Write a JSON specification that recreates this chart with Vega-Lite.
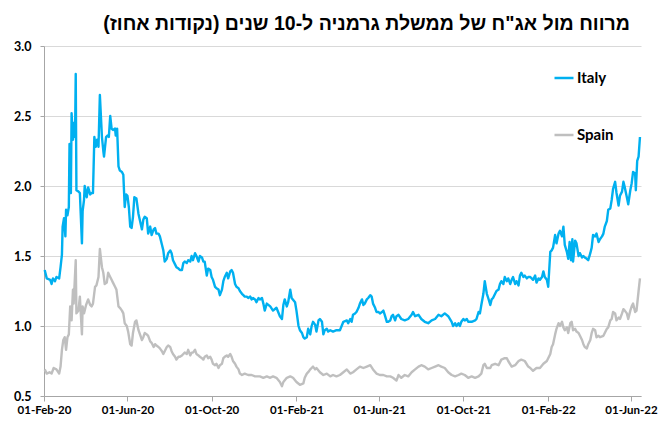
{
"$schema": "https://vega.github.io/schema/vega-lite/v6.json",
"width": 597, "height": 350,
"autosize": {"type": "none"},
"padding": {"left": 44, "top": 46, "right": 27, "bottom": 28},
"background": "white",
"title": {"text": "\u200Fמרווח מול אג\"ח של ממשלת גרמניה ל-10 שנים (נקודות אחוז)\u200F", "font": "Liberation Sans", "fontSize": 19.5, "fontWeight": "bold", "color": "black", "anchor": "end", "frame": "group", "dx": -11, "offset": 6},
"data": {"format": {"parse": {"d": "date:'%Y-%m-%d'"}}, "values": [
{"c":"Italy","d":"2020-02-02","v":1.40},{"c":"Italy","d":"2020-02-05","v":1.34},{"c":"Italy","d":"2020-02-10","v":1.33},{"c":"Italy","d":"2020-02-12","v":1.30},{"c":"Italy","d":"2020-02-14","v":1.34},{"c":"Italy","d":"2020-02-17","v":1.32},{"c":"Italy","d":"2020-02-19","v":1.35},{"c":"Italy","d":"2020-02-23","v":1.34},{"c":"Italy","d":"2020-02-25","v":1.42},{"c":"Italy","d":"2020-02-27","v":1.51},{"c":"Italy","d":"2020-02-28","v":1.71},{"c":"Italy","d":"2020-03-01","v":1.77},{"c":"Italy","d":"2020-03-03","v":1.64},{"c":"Italy","d":"2020-03-04","v":1.83},{"c":"Italy","d":"2020-03-06","v":1.79},{"c":"Italy","d":"2020-03-08","v":1.85},{"c":"Italy","d":"2020-03-09","v":2.30},{"c":"Italy","d":"2020-03-11","v":1.95},{"c":"Italy","d":"2020-03-12","v":2.52},{"c":"Italy","d":"2020-03-14","v":2.33},{"c":"Italy","d":"2020-03-15","v":2.45},{"c":"Italy","d":"2020-03-17","v":2.35},{"c":"Italy","d":"2020-03-18","v":2.80},{"c":"Italy","d":"2020-03-19","v":1.97},{"c":"Italy","d":"2020-03-22","v":1.96},{"c":"Italy","d":"2020-03-24","v":1.95},{"c":"Italy","d":"2020-03-27","v":1.59},{"c":"Italy","d":"2020-03-28","v":1.82},{"c":"Italy","d":"2020-03-30","v":1.90},{"c":"Italy","d":"2020-03-31","v":2.00},{"c":"Italy","d":"2020-04-03","v":1.92},{"c":"Italy","d":"2020-04-05","v":1.99},{"c":"Italy","d":"2020-04-08","v":1.94},{"c":"Italy","d":"2020-04-10","v":1.95},{"c":"Italy","d":"2020-04-12","v":1.95},{"c":"Italy","d":"2020-04-14","v":2.35},{"c":"Italy","d":"2020-04-16","v":2.28},{"c":"Italy","d":"2020-04-18","v":2.33},{"c":"Italy","d":"2020-04-20","v":2.28},{"c":"Italy","d":"2020-04-22","v":2.65},{"c":"Italy","d":"2020-04-25","v":2.35},{"c":"Italy","d":"2020-04-27","v":2.25},{"c":"Italy","d":"2020-04-28","v":2.21},{"c":"Italy","d":"2020-05-01","v":2.35},{"c":"Italy","d":"2020-05-03","v":2.36},{"c":"Italy","d":"2020-05-05","v":2.35},{"c":"Italy","d":"2020-05-07","v":2.50},{"c":"Italy","d":"2020-05-09","v":2.41},{"c":"Italy","d":"2020-05-11","v":2.40},{"c":"Italy","d":"2020-05-14","v":2.41},{"c":"Italy","d":"2020-05-15","v":2.36},{"c":"Italy","d":"2020-05-17","v":2.41},{"c":"Italy","d":"2020-05-19","v":2.14},{"c":"Italy","d":"2020-05-21","v":2.11},{"c":"Italy","d":"2020-05-24","v":2.10},{"c":"Italy","d":"2020-05-26","v":2.08},{"c":"Italy","d":"2020-05-28","v":1.85},{"c":"Italy","d":"2020-05-30","v":1.94},{"c":"Italy","d":"2020-06-01","v":1.93},{"c":"Italy","d":"2020-06-03","v":1.85},{"c":"Italy","d":"2020-06-05","v":1.71},{"c":"Italy","d":"2020-06-07","v":1.70},{"c":"Italy","d":"2020-06-09","v":1.78},{"c":"Italy","d":"2020-06-11","v":1.92},{"c":"Italy","d":"2020-06-14","v":1.91},
{"c":"Italy","d":"2020-06-17","v":1.80},{"c":"Italy","d":"2020-06-22","v":1.69},{"c":"Italy","d":"2020-06-24","v":1.76},{"c":"Italy","d":"2020-06-26","v":1.78},{"c":"Italy","d":"2020-06-29","v":1.77},{"c":"Italy","d":"2020-07-01","v":1.66},{"c":"Italy","d":"2020-07-04","v":1.71},{"c":"Italy","d":"2020-07-06","v":1.65},{"c":"Italy","d":"2020-07-09","v":1.69},{"c":"Italy","d":"2020-07-11","v":1.70},{"c":"Italy","d":"2020-07-13","v":1.66},{"c":"Italy","d":"2020-07-16","v":1.66},{"c":"Italy","d":"2020-07-18","v":1.64},{"c":"Italy","d":"2020-07-21","v":1.58},{"c":"Italy","d":"2020-07-23","v":1.54},{"c":"Italy","d":"2020-07-25","v":1.46},{"c":"Italy","d":"2020-07-28","v":1.48},{"c":"Italy","d":"2020-07-30","v":1.52},{"c":"Italy","d":"2020-08-02","v":1.54},{"c":"Italy","d":"2020-08-04","v":1.52},{"c":"Italy","d":"2020-08-06","v":1.47},{"c":"Italy","d":"2020-08-09","v":1.44},{"c":"Italy","d":"2020-08-11","v":1.42},{"c":"Italy","d":"2020-08-14","v":1.41},{"c":"Italy","d":"2020-08-16","v":1.40},{"c":"Italy","d":"2020-08-19","v":1.40},{"c":"Italy","d":"2020-08-21","v":1.45},{"c":"Italy","d":"2020-08-23","v":1.46},{"c":"Italy","d":"2020-08-26","v":1.45},{"c":"Italy","d":"2020-08-28","v":1.47},{"c":"Italy","d":"2020-08-31","v":1.46},{"c":"Italy","d":"2020-09-02","v":1.50},{"c":"Italy","d":"2020-09-04","v":1.47},{"c":"Italy","d":"2020-09-07","v":1.52},{"c":"Italy","d":"2020-09-09","v":1.50},{"c":"Italy","d":"2020-09-12","v":1.46},{"c":"Italy","d":"2020-09-14","v":1.50},{"c":"Italy","d":"2020-09-17","v":1.49},{"c":"Italy","d":"2020-09-19","v":1.46},{"c":"Italy","d":"2020-09-21","v":1.46},{"c":"Italy","d":"2020-09-24","v":1.36},{"c":"Italy","d":"2020-09-26","v":1.41},{"c":"Italy","d":"2020-09-29","v":1.40},{"c":"Italy","d":"2020-10-01","v":1.35},{"c":"Italy","d":"2020-10-03","v":1.33},{"c":"Italy","d":"2020-10-06","v":1.28},{"c":"Italy","d":"2020-10-08","v":1.27},{"c":"Italy","d":"2020-10-11","v":1.26},{"c":"Italy","d":"2020-10-13","v":1.22},{"c":"Italy","d":"2020-10-16","v":1.26},{"c":"Italy","d":"2020-10-18","v":1.32},{"c":"Italy","d":"2020-10-20","v":1.35},{"c":"Italy","d":"2020-10-23","v":1.38},{"c":"Italy","d":"2020-10-25","v":1.34},{"c":"Italy","d":"2020-10-28","v":1.39},{"c":"Italy","d":"2020-10-30","v":1.40},{"c":"Italy","d":"2020-11-01","v":1.38},{"c":"Italy","d":"2020-11-04","v":1.30},{"c":"Italy","d":"2020-11-06","v":1.28},{"c":"Italy","d":"2020-11-09","v":1.27},{"c":"Italy","d":"2020-11-11","v":1.25},{"c":"Italy","d":"2020-11-14","v":1.23},{"c":"Italy","d":"2020-11-16","v":1.22},{"c":"Italy","d":"2020-11-18","v":1.21},{"c":"Italy","d":"2020-11-21","v":1.21},{"c":"Italy","d":"2020-11-23","v":1.20},{"c":"Italy","d":"2020-11-26","v":1.21},{"c":"Italy","d":"2020-11-28","v":1.19},{"c":"Italy","d":"2020-11-30","v":1.20},{"c":"Italy","d":"2020-12-03","v":1.19},{"c":"Italy","d":"2020-12-05","v":1.17},{"c":"Italy","d":"2020-12-08","v":1.20},{"c":"Italy","d":"2020-12-10","v":1.19},{"c":"Italy","d":"2020-12-13","v":1.20},{"c":"Italy","d":"2020-12-15","v":1.16},{"c":"Italy","d":"2020-12-17","v":1.11},
{"c":"Italy","d":"2020-12-20","v":1.16},{"c":"Italy","d":"2020-12-25","v":1.14},{"c":"Italy","d":"2020-12-29","v":1.11},{"c":"Italy","d":"2021-01-03","v":1.13},{"c":"Italy","d":"2021-01-08","v":1.07},{"c":"Italy","d":"2021-01-11","v":1.05},{"c":"Italy","d":"2021-01-13","v":1.15},{"c":"Italy","d":"2021-01-15","v":1.19},{"c":"Italy","d":"2021-01-18","v":1.14},{"c":"Italy","d":"2021-01-20","v":1.17},{"c":"Italy","d":"2021-01-23","v":1.26},{"c":"Italy","d":"2021-01-25","v":1.20},{"c":"Italy","d":"2021-01-30","v":1.17},{"c":"Italy","d":"2021-02-01","v":1.11},{"c":"Italy","d":"2021-02-04","v":1.00},{"c":"Italy","d":"2021-02-06","v":0.97},{"c":"Italy","d":"2021-02-09","v":0.95},{"c":"Italy","d":"2021-02-11","v":0.92},{"c":"Italy","d":"2021-02-13","v":0.91},{"c":"Italy","d":"2021-02-16","v":0.92},{"c":"Italy","d":"2021-02-18","v":0.98},{"c":"Italy","d":"2021-02-21","v":0.94},{"c":"Italy","d":"2021-02-23","v":1.00},{"c":"Italy","d":"2021-02-25","v":1.03},{"c":"Italy","d":"2021-02-28","v":1.01},{"c":"Italy","d":"2021-03-02","v":0.96},{"c":"Italy","d":"2021-03-05","v":1.04},{"c":"Italy","d":"2021-03-07","v":1.05},{"c":"Italy","d":"2021-03-10","v":1.03},{"c":"Italy","d":"2021-03-12","v":0.94},{"c":"Italy","d":"2021-03-14","v":0.97},{"c":"Italy","d":"2021-03-17","v":0.98},{"c":"Italy","d":"2021-03-19","v":0.96},{"c":"Italy","d":"2021-03-22","v":0.97},{"c":"Italy","d":"2021-03-26","v":0.96},{"c":"Italy","d":"2021-03-31","v":0.97},{"c":"Italy","d":"2021-04-05","v":0.97},{"c":"Italy","d":"2021-04-10","v":1.03},{"c":"Italy","d":"2021-04-15","v":1.04},{"c":"Italy","d":"2021-04-17","v":1.02},{"c":"Italy","d":"2021-04-20","v":1.05},{"c":"Italy","d":"2021-04-22","v":1.03},{"c":"Italy","d":"2021-04-24","v":1.08},{"c":"Italy","d":"2021-04-27","v":1.09},{"c":"Italy","d":"2021-04-29","v":1.10},{"c":"Italy","d":"2021-05-02","v":1.13},{"c":"Italy","d":"2021-05-04","v":1.16},{"c":"Italy","d":"2021-05-07","v":1.19},{"c":"Italy","d":"2021-05-09","v":1.15},{"c":"Italy","d":"2021-05-11","v":1.16},{"c":"Italy","d":"2021-05-14","v":1.19},{"c":"Italy","d":"2021-05-16","v":1.20},{"c":"Italy","d":"2021-05-19","v":1.22},{"c":"Italy","d":"2021-05-21","v":1.21},{"c":"Italy","d":"2021-05-23","v":1.16},{"c":"Italy","d":"2021-05-26","v":1.13},{"c":"Italy","d":"2021-05-28","v":1.10},{"c":"Italy","d":"2021-05-31","v":1.10},{"c":"Italy","d":"2021-06-02","v":1.09},{"c":"Italy","d":"2021-06-05","v":1.10},{"c":"Italy","d":"2021-06-07","v":1.11},{"c":"Italy","d":"2021-06-09","v":1.08},{"c":"Italy","d":"2021-06-12","v":1.03},{"c":"Italy","d":"2021-06-14","v":1.03},{"c":"Italy","d":"2021-06-17","v":1.04},{"c":"Italy","d":"2021-06-19","v":1.07},{"c":"Italy","d":"2021-06-21","v":1.08},{"c":"Italy","d":"2021-06-24","v":1.04},{"c":"Italy","d":"2021-06-26","v":1.07},{"c":"Italy","d":"2021-06-29","v":1.08},
{"c":"Italy","d":"2021-07-03","v":1.05},{"c":"Italy","d":"2021-07-08","v":1.04},{"c":"Italy","d":"2021-07-13","v":1.05},{"c":"Italy","d":"2021-07-18","v":1.08},{"c":"Italy","d":"2021-07-20","v":1.10},{"c":"Italy","d":"2021-07-23","v":1.07},{"c":"Italy","d":"2021-07-28","v":1.08},{"c":"Italy","d":"2021-08-01","v":1.05},{"c":"Italy","d":"2021-08-06","v":1.03},{"c":"Italy","d":"2021-08-11","v":1.02},{"c":"Italy","d":"2021-08-16","v":1.04},{"c":"Italy","d":"2021-08-21","v":1.05},{"c":"Italy","d":"2021-08-26","v":1.08},{"c":"Italy","d":"2021-08-30","v":1.07},{"c":"Italy","d":"2021-09-04","v":1.09},{"c":"Italy","d":"2021-09-09","v":1.07},{"c":"Italy","d":"2021-09-14","v":1.03},{"c":"Italy","d":"2021-09-16","v":1.00},{"c":"Italy","d":"2021-09-19","v":1.02},{"c":"Italy","d":"2021-09-21","v":1.00},{"c":"Italy","d":"2021-09-24","v":1.02},{"c":"Italy","d":"2021-09-26","v":1.00},{"c":"Italy","d":"2021-09-28","v":1.03},{"c":"Italy","d":"2021-10-01","v":1.05},{"c":"Italy","d":"2021-10-03","v":1.04},{"c":"Italy","d":"2021-10-06","v":1.05},{"c":"Italy","d":"2021-10-08","v":1.03},{"c":"Italy","d":"2021-10-13","v":1.03},{"c":"Italy","d":"2021-10-18","v":1.04},{"c":"Italy","d":"2021-10-20","v":1.05},{"c":"Italy","d":"2021-10-23","v":1.10},{"c":"Italy","d":"2021-10-25","v":1.09},{"c":"Italy","d":"2021-10-27","v":1.15},{"c":"Italy","d":"2021-10-30","v":1.23},{"c":"Italy","d":"2021-11-01","v":1.32},{"c":"Italy","d":"2021-11-04","v":1.23},{"c":"Italy","d":"2021-11-06","v":1.20},{"c":"Italy","d":"2021-11-09","v":1.15},{"c":"Italy","d":"2021-11-11","v":1.19},{"c":"Italy","d":"2021-11-13","v":1.20},{"c":"Italy","d":"2021-11-16","v":1.23},{"c":"Italy","d":"2021-11-18","v":1.25},{"c":"Italy","d":"2021-11-21","v":1.26},{"c":"Italy","d":"2021-11-23","v":1.30},{"c":"Italy","d":"2021-11-25","v":1.32},{"c":"Italy","d":"2021-11-28","v":1.30},{"c":"Italy","d":"2021-11-30","v":1.35},{"c":"Italy","d":"2021-12-03","v":1.32},{"c":"Italy","d":"2021-12-05","v":1.34},{"c":"Italy","d":"2021-12-08","v":1.30},{"c":"Italy","d":"2021-12-10","v":1.33},{"c":"Italy","d":"2021-12-12","v":1.35},{"c":"Italy","d":"2021-12-15","v":1.30},{"c":"Italy","d":"2021-12-17","v":1.32},{"c":"Italy","d":"2021-12-20","v":1.29},{"c":"Italy","d":"2021-12-22","v":1.36},{"c":"Italy","d":"2021-12-24","v":1.38},{"c":"Italy","d":"2021-12-27","v":1.35},{"c":"Italy","d":"2021-12-29","v":1.36},{"c":"Italy","d":"2022-01-01","v":1.34},{"c":"Italy","d":"2022-01-03","v":1.35},
{"c":"Italy","d":"2022-01-06","v":1.35},{"c":"Italy","d":"2022-01-10","v":1.33},{"c":"Italy","d":"2022-01-13","v":1.36},{"c":"Italy","d":"2022-01-15","v":1.31},{"c":"Italy","d":"2022-01-18","v":1.34},{"c":"Italy","d":"2022-01-20","v":1.33},{"c":"Italy","d":"2022-01-23","v":1.35},{"c":"Italy","d":"2022-01-25","v":1.39},{"c":"Italy","d":"2022-01-27","v":1.35},{"c":"Italy","d":"2022-01-30","v":1.33},{"c":"Italy","d":"2022-02-01","v":1.28},{"c":"Italy","d":"2022-02-04","v":1.53},{"c":"Italy","d":"2022-02-06","v":1.54},{"c":"Italy","d":"2022-02-08","v":1.56},{"c":"Italy","d":"2022-02-11","v":1.65},{"c":"Italy","d":"2022-02-13","v":1.59},{"c":"Italy","d":"2022-02-16","v":1.66},{"c":"Italy","d":"2022-02-18","v":1.68},{"c":"Italy","d":"2022-02-21","v":1.64},{"c":"Italy","d":"2022-02-23","v":1.71},{"c":"Italy","d":"2022-02-25","v":1.58},{"c":"Italy","d":"2022-02-28","v":1.53},{"c":"Italy","d":"2022-03-02","v":1.48},{"c":"Italy","d":"2022-03-04","v":1.60},{"c":"Italy","d":"2022-03-06","v":1.47},{"c":"Italy","d":"2022-03-08","v":1.62},{"c":"Italy","d":"2022-03-09","v":1.46},{"c":"Italy","d":"2022-03-12","v":1.61},{"c":"Italy","d":"2022-03-14","v":1.59},{"c":"Italy","d":"2022-03-17","v":1.50},{"c":"Italy","d":"2022-03-19","v":1.52},{"c":"Italy","d":"2022-03-22","v":1.49},{"c":"Italy","d":"2022-03-24","v":1.50},{"c":"Italy","d":"2022-03-26","v":1.49},{"c":"Italy","d":"2022-03-29","v":1.48},{"c":"Italy","d":"2022-03-31","v":1.47},{"c":"Italy","d":"2022-04-03","v":1.52},{"c":"Italy","d":"2022-04-05","v":1.56},{"c":"Italy","d":"2022-04-07","v":1.65},{"c":"Italy","d":"2022-04-10","v":1.64},{"c":"Italy","d":"2022-04-12","v":1.66},{"c":"Italy","d":"2022-04-15","v":1.60},{"c":"Italy","d":"2022-04-17","v":1.62},{"c":"Italy","d":"2022-04-20","v":1.64},{"c":"Italy","d":"2022-04-22","v":1.66},{"c":"Italy","d":"2022-04-24","v":1.71},{"c":"Italy","d":"2022-04-27","v":1.75},{"c":"Italy","d":"2022-04-29","v":1.83},{"c":"Italy","d":"2022-05-02","v":1.84},{"c":"Italy","d":"2022-05-04","v":1.90},{"c":"Italy","d":"2022-05-06","v":1.98},{"c":"Italy","d":"2022-05-09","v":2.03},{"c":"Italy","d":"2022-05-11","v":1.95},{"c":"Italy","d":"2022-05-14","v":1.86},{"c":"Italy","d":"2022-05-16","v":1.93},{"c":"Italy","d":"2022-05-19","v":1.96},{"c":"Italy","d":"2022-05-21","v":2.03},{"c":"Italy","d":"2022-05-23","v":1.99},{"c":"Italy","d":"2022-05-26","v":1.92},{"c":"Italy","d":"2022-05-28","v":1.87},{"c":"Italy","d":"2022-05-31","v":1.97},{"c":"Italy","d":"2022-06-02","v":2.02},{"c":"Italy","d":"2022-06-04","v":2.10},{"c":"Italy","d":"2022-06-07","v":2.09},{"c":"Italy","d":"2022-06-08","v":1.97},{"c":"Italy","d":"2022-06-10","v":2.18},{"c":"Italy","d":"2022-06-12","v":2.21},{"c":"Italy","d":"2022-06-14","v":2.35},
{"c":"Spain","d":"2020-02-02","v":0.69},{"c":"Spain","d":"2020-02-05","v":0.66},{"c":"Spain","d":"2020-02-09","v":0.67},{"c":"Spain","d":"2020-02-12","v":0.66},{"c":"Spain","d":"2020-02-15","v":0.70},{"c":"Spain","d":"2020-02-19","v":0.69},{"c":"Spain","d":"2020-02-23","v":0.66},{"c":"Spain","d":"2020-02-25","v":0.71},{"c":"Spain","d":"2020-02-27","v":0.83},{"c":"Spain","d":"2020-02-29","v":0.90},{"c":"Spain","d":"2020-03-02","v":0.92},{"c":"Spain","d":"2020-03-04","v":0.83},{"c":"Spain","d":"2020-03-06","v":0.92},{"c":"Spain","d":"2020-03-08","v":0.94},{"c":"Spain","d":"2020-03-10","v":1.14},{"c":"Spain","d":"2020-03-12","v":1.04},{"c":"Spain","d":"2020-03-14","v":1.26},{"c":"Spain","d":"2020-03-15","v":1.16},{"c":"Spain","d":"2020-03-18","v":1.47},{"c":"Spain","d":"2020-03-19","v":1.09},{"c":"Spain","d":"2020-03-22","v":1.11},{"c":"Spain","d":"2020-03-24","v":1.21},{"c":"Spain","d":"2020-03-27","v":0.94},{"c":"Spain","d":"2020-03-28","v":1.14},{"c":"Spain","d":"2020-03-30","v":1.09},{"c":"Spain","d":"2020-04-02","v":1.15},{"c":"Spain","d":"2020-04-05","v":1.19},{"c":"Spain","d":"2020-04-08","v":1.15},{"c":"Spain","d":"2020-04-10","v":1.14},{"c":"Spain","d":"2020-04-12","v":1.16},{"c":"Spain","d":"2020-04-15","v":1.28},{"c":"Spain","d":"2020-04-17","v":1.29},{"c":"Spain","d":"2020-04-20","v":1.35},{"c":"Spain","d":"2020-04-22","v":1.55},{"c":"Spain","d":"2020-04-25","v":1.42},{"c":"Spain","d":"2020-04-27","v":1.38},{"c":"Spain","d":"2020-04-29","v":1.30},{"c":"Spain","d":"2020-05-02","v":1.31},{"c":"Spain","d":"2020-05-04","v":1.38},{"c":"Spain","d":"2020-05-07","v":1.35},{"c":"Spain","d":"2020-05-09","v":1.33},{"c":"Spain","d":"2020-05-11","v":1.31},{"c":"Spain","d":"2020-05-14","v":1.28},{"c":"Spain","d":"2020-05-16","v":1.26},{"c":"Spain","d":"2020-05-19","v":1.14},{"c":"Spain","d":"2020-05-21","v":1.13},{"c":"Spain","d":"2020-05-24","v":1.11},{"c":"Spain","d":"2020-05-26","v":1.09},{"c":"Spain","d":"2020-05-28","v":1.02},{"c":"Spain","d":"2020-05-31","v":1.00},{"c":"Spain","d":"2020-06-02","v":0.96},{"c":"Spain","d":"2020-06-05","v":0.87},{"c":"Spain","d":"2020-06-07","v":0.86},{"c":"Spain","d":"2020-06-09","v":0.95},{"c":"Spain","d":"2020-06-12","v":1.03},{"c":"Spain","d":"2020-06-14","v":1.04},
{"c":"Spain","d":"2020-06-17","v":0.97},{"c":"Spain","d":"2020-06-22","v":0.90},{"c":"Spain","d":"2020-06-24","v":0.92},{"c":"Spain","d":"2020-06-26","v":0.95},{"c":"Spain","d":"2020-06-29","v":0.94},{"c":"Spain","d":"2020-07-01","v":0.93},{"c":"Spain","d":"2020-07-04","v":0.89},{"c":"Spain","d":"2020-07-06","v":0.88},{"c":"Spain","d":"2020-07-09","v":0.85},{"c":"Spain","d":"2020-07-11","v":0.87},{"c":"Spain","d":"2020-07-13","v":0.86},{"c":"Spain","d":"2020-07-16","v":0.85},{"c":"Spain","d":"2020-07-18","v":0.84},{"c":"Spain","d":"2020-07-21","v":0.82},{"c":"Spain","d":"2020-07-23","v":0.80},{"c":"Spain","d":"2020-07-25","v":0.82},{"c":"Spain","d":"2020-07-28","v":0.85},{"c":"Spain","d":"2020-07-30","v":0.86},{"c":"Spain","d":"2020-08-02","v":0.85},{"c":"Spain","d":"2020-08-04","v":0.82},{"c":"Spain","d":"2020-08-06","v":0.80},{"c":"Spain","d":"2020-08-09","v":0.78},{"c":"Spain","d":"2020-08-11","v":0.76},{"c":"Spain","d":"2020-08-14","v":0.78},{"c":"Spain","d":"2020-08-16","v":0.78},{"c":"Spain","d":"2020-08-19","v":0.79},{"c":"Spain","d":"2020-08-21","v":0.80},{"c":"Spain","d":"2020-08-23","v":0.81},{"c":"Spain","d":"2020-08-26","v":0.80},{"c":"Spain","d":"2020-08-28","v":0.83},{"c":"Spain","d":"2020-08-31","v":0.79},{"c":"Spain","d":"2020-09-02","v":0.81},{"c":"Spain","d":"2020-09-04","v":0.81},{"c":"Spain","d":"2020-09-07","v":0.83},{"c":"Spain","d":"2020-09-09","v":0.80},{"c":"Spain","d":"2020-09-12","v":0.79},{"c":"Spain","d":"2020-09-14","v":0.78},{"c":"Spain","d":"2020-09-17","v":0.77},{"c":"Spain","d":"2020-09-19","v":0.76},{"c":"Spain","d":"2020-09-21","v":0.78},{"c":"Spain","d":"2020-09-24","v":0.79},{"c":"Spain","d":"2020-09-26","v":0.77},{"c":"Spain","d":"2020-09-29","v":0.78},{"c":"Spain","d":"2020-10-01","v":0.76},{"c":"Spain","d":"2020-10-03","v":0.73},{"c":"Spain","d":"2020-10-06","v":0.72},{"c":"Spain","d":"2020-10-08","v":0.73},{"c":"Spain","d":"2020-10-11","v":0.70},{"c":"Spain","d":"2020-10-13","v":0.72},{"c":"Spain","d":"2020-10-16","v":0.73},{"c":"Spain","d":"2020-10-18","v":0.77},{"c":"Spain","d":"2020-10-20","v":0.78},{"c":"Spain","d":"2020-10-23","v":0.79},{"c":"Spain","d":"2020-10-25","v":0.78},{"c":"Spain","d":"2020-10-28","v":0.80},{"c":"Spain","d":"2020-10-30","v":0.78},{"c":"Spain","d":"2020-11-01","v":0.75},{"c":"Spain","d":"2020-11-04","v":0.73},{"c":"Spain","d":"2020-11-06","v":0.71},{"c":"Spain","d":"2020-11-09","v":0.69},{"c":"Spain","d":"2020-11-11","v":0.66},{"c":"Spain","d":"2020-11-14","v":0.65},{"c":"Spain","d":"2020-11-18","v":0.66},{"c":"Spain","d":"2020-11-23","v":0.65},{"c":"Spain","d":"2020-11-28","v":0.65},{"c":"Spain","d":"2020-12-03","v":0.64},{"c":"Spain","d":"2020-12-08","v":0.64},
{"c":"Spain","d":"2020-12-10","v":0.64},{"c":"Spain","d":"2020-12-15","v":0.63},{"c":"Spain","d":"2020-12-20","v":0.64},{"c":"Spain","d":"2020-12-25","v":0.63},{"c":"Spain","d":"2020-12-29","v":0.64},{"c":"Spain","d":"2021-01-03","v":0.63},{"c":"Spain","d":"2021-01-08","v":0.60},{"c":"Spain","d":"2021-01-11","v":0.57},{"c":"Spain","d":"2021-01-13","v":0.60},{"c":"Spain","d":"2021-01-18","v":0.63},{"c":"Spain","d":"2021-01-23","v":0.64},{"c":"Spain","d":"2021-01-27","v":0.63},{"c":"Spain","d":"2021-02-01","v":0.60},{"c":"Spain","d":"2021-02-06","v":0.58},{"c":"Spain","d":"2021-02-11","v":0.59},{"c":"Spain","d":"2021-02-13","v":0.63},{"c":"Spain","d":"2021-02-16","v":0.66},{"c":"Spain","d":"2021-02-18","v":0.67},{"c":"Spain","d":"2021-02-21","v":0.69},{"c":"Spain","d":"2021-02-23","v":0.70},{"c":"Spain","d":"2021-02-25","v":0.71},{"c":"Spain","d":"2021-02-28","v":0.69},{"c":"Spain","d":"2021-03-02","v":0.70},{"c":"Spain","d":"2021-03-07","v":0.67},{"c":"Spain","d":"2021-03-12","v":0.65},{"c":"Spain","d":"2021-03-17","v":0.66},{"c":"Spain","d":"2021-03-22","v":0.64},{"c":"Spain","d":"2021-03-26","v":0.65},{"c":"Spain","d":"2021-03-31","v":0.64},{"c":"Spain","d":"2021-04-05","v":0.65},{"c":"Spain","d":"2021-04-10","v":0.67},{"c":"Spain","d":"2021-04-15","v":0.69},{"c":"Spain","d":"2021-04-20","v":0.66},{"c":"Spain","d":"2021-04-24","v":0.67},{"c":"Spain","d":"2021-04-29","v":0.69},{"c":"Spain","d":"2021-05-04","v":0.71},{"c":"Spain","d":"2021-05-09","v":0.70},{"c":"Spain","d":"2021-05-14","v":0.71},{"c":"Spain","d":"2021-05-19","v":0.72},{"c":"Spain","d":"2021-05-23","v":0.69},{"c":"Spain","d":"2021-05-28","v":0.66},{"c":"Spain","d":"2021-06-02","v":0.65},{"c":"Spain","d":"2021-06-07","v":0.65},{"c":"Spain","d":"2021-06-12","v":0.64},{"c":"Spain","d":"2021-06-17","v":0.64},{"c":"Spain","d":"2021-06-21","v":0.63},{"c":"Spain","d":"2021-06-26","v":0.61},
{"c":"Spain","d":"2021-06-29","v":0.65},{"c":"Spain","d":"2021-07-03","v":0.63},{"c":"Spain","d":"2021-07-08","v":0.65},{"c":"Spain","d":"2021-07-13","v":0.64},{"c":"Spain","d":"2021-07-18","v":0.67},{"c":"Spain","d":"2021-07-23","v":0.69},{"c":"Spain","d":"2021-07-28","v":0.71},{"c":"Spain","d":"2021-08-01","v":0.72},{"c":"Spain","d":"2021-08-06","v":0.71},{"c":"Spain","d":"2021-08-11","v":0.69},{"c":"Spain","d":"2021-08-16","v":0.70},{"c":"Spain","d":"2021-08-21","v":0.71},{"c":"Spain","d":"2021-08-26","v":0.72},{"c":"Spain","d":"2021-08-30","v":0.71},{"c":"Spain","d":"2021-09-04","v":0.70},{"c":"Spain","d":"2021-09-09","v":0.67},{"c":"Spain","d":"2021-09-14","v":0.65},{"c":"Spain","d":"2021-09-19","v":0.64},{"c":"Spain","d":"2021-09-24","v":0.65},{"c":"Spain","d":"2021-09-28","v":0.66},{"c":"Spain","d":"2021-10-03","v":0.65},{"c":"Spain","d":"2021-10-08","v":0.63},{"c":"Spain","d":"2021-10-13","v":0.64},{"c":"Spain","d":"2021-10-18","v":0.63},{"c":"Spain","d":"2021-10-23","v":0.64},{"c":"Spain","d":"2021-10-27","v":0.66},{"c":"Spain","d":"2021-10-30","v":0.72},{"c":"Spain","d":"2021-11-01","v":0.73},{"c":"Spain","d":"2021-11-04","v":0.70},{"c":"Spain","d":"2021-11-09","v":0.70},{"c":"Spain","d":"2021-11-11","v":0.72},{"c":"Spain","d":"2021-11-16","v":0.73},{"c":"Spain","d":"2021-11-21","v":0.72},{"c":"Spain","d":"2021-11-25","v":0.76},{"c":"Spain","d":"2021-11-30","v":0.77},{"c":"Spain","d":"2021-12-03","v":0.77},{"c":"Spain","d":"2021-12-05","v":0.75},{"c":"Spain","d":"2021-12-10","v":0.71},{"c":"Spain","d":"2021-12-15","v":0.72},{"c":"Spain","d":"2021-12-20","v":0.75},{"c":"Spain","d":"2021-12-24","v":0.76},{"c":"Spain","d":"2021-12-29","v":0.75},{"c":"Spain","d":"2022-01-03","v":0.71},
{"c":"Spain","d":"2022-01-06","v":0.70},{"c":"Spain","d":"2022-01-10","v":0.68},{"c":"Spain","d":"2022-01-15","v":0.70},{"c":"Spain","d":"2022-01-20","v":0.70},{"c":"Spain","d":"2022-01-25","v":0.73},{"c":"Spain","d":"2022-01-30","v":0.75},{"c":"Spain","d":"2022-02-04","v":0.80},{"c":"Spain","d":"2022-02-06","v":0.85},{"c":"Spain","d":"2022-02-08","v":0.87},{"c":"Spain","d":"2022-02-11","v":0.94},{"c":"Spain","d":"2022-02-13","v":0.98},{"c":"Spain","d":"2022-02-16","v":1.02},{"c":"Spain","d":"2022-02-18","v":1.00},{"c":"Spain","d":"2022-02-21","v":1.03},{"c":"Spain","d":"2022-02-23","v":0.99},{"c":"Spain","d":"2022-02-25","v":0.97},{"c":"Spain","d":"2022-02-28","v":0.99},{"c":"Spain","d":"2022-03-02","v":0.95},{"c":"Spain","d":"2022-03-05","v":1.02},{"c":"Spain","d":"2022-03-07","v":1.03},{"c":"Spain","d":"2022-03-09","v":0.97},{"c":"Spain","d":"2022-03-12","v":0.98},{"c":"Spain","d":"2022-03-14","v":0.96},{"c":"Spain","d":"2022-03-17","v":0.95},{"c":"Spain","d":"2022-03-19","v":0.93},{"c":"Spain","d":"2022-03-22","v":0.90},{"c":"Spain","d":"2022-03-24","v":0.87},{"c":"Spain","d":"2022-03-26","v":0.85},{"c":"Spain","d":"2022-03-29","v":0.84},{"c":"Spain","d":"2022-03-31","v":0.87},{"c":"Spain","d":"2022-04-03","v":0.90},{"c":"Spain","d":"2022-04-05","v":0.95},{"c":"Spain","d":"2022-04-07","v":0.98},{"c":"Spain","d":"2022-04-10","v":0.97},{"c":"Spain","d":"2022-04-12","v":0.92},{"c":"Spain","d":"2022-04-15","v":0.93},{"c":"Spain","d":"2022-04-17","v":0.92},{"c":"Spain","d":"2022-04-22","v":0.93},{"c":"Spain","d":"2022-04-27","v":0.98},{"c":"Spain","d":"2022-04-29","v":0.99},{"c":"Spain","d":"2022-05-02","v":1.04},{"c":"Spain","d":"2022-05-04","v":1.05},{"c":"Spain","d":"2022-05-06","v":1.10},{"c":"Spain","d":"2022-05-09","v":1.09},{"c":"Spain","d":"2022-05-11","v":1.04},{"c":"Spain","d":"2022-05-14","v":1.06},{"c":"Spain","d":"2022-05-16","v":1.05},{"c":"Spain","d":"2022-05-19","v":1.09},{"c":"Spain","d":"2022-05-21","v":1.12},{"c":"Spain","d":"2022-05-23","v":1.11},{"c":"Spain","d":"2022-05-26","v":1.09},{"c":"Spain","d":"2022-05-28","v":1.05},{"c":"Spain","d":"2022-05-31","v":1.11},{"c":"Spain","d":"2022-06-02","v":1.14},{"c":"Spain","d":"2022-06-04","v":1.16},{"c":"Spain","d":"2022-06-07","v":1.10},{"c":"Spain","d":"2022-06-09","v":1.11},{"c":"Spain","d":"2022-06-12","v":1.25},{"c":"Spain","d":"2022-06-14","v":1.34}
]},
"mark": {"type": "line", "strokeWidth": 2.4, "strokeJoin": "round"},
"encoding": {
"x": {"field": "d", "type": "temporal",
 "scale": {"domain": [{"year": 2020, "month": 2, "date": 1}, {"year": 2022, "month": 6, "date": 15, "hours": 12}]},
 "axis": {"title": null, "grid": false, "format": "%d-%b-%y", "labelAngle": 0, "labelFlush": false, "labelOverlap": false,
  "values": [{"year": 2020, "month": 2, "date": 1}, {"year": 2020, "month": 6, "date": 1}, {"year": 2020, "month": 10, "date": 1}, {"year": 2021, "month": 2, "date": 1}, {"year": 2021, "month": 6, "date": 1}, {"year": 2021, "month": 10, "date": 1}, {"year": 2022, "month": 2, "date": 1}, {"year": 2022, "month": 6, "date": 1}],
  "labelFont": "Lato", "labelFontSize": 11.5, "labelFontWeight": "bold", "labelColor": "black", "labelPadding": 3,
  "tickSize": 5, "tickColor": "#A6A6A6", "domainColor": "#A6A6A6"}},
"y": {"field": "v", "type": "quantitative",
 "scale": {"domain": [0.5, 3], "nice": false, "zero": false},
 "axis": {"title": null, "values": [0.5, 1, 1.5, 2, 2.5, 3], "format": ".1f", "grid": true, "gridColor": "#D9D9D9", "labelFlush": false,
  "labelFont": "Lato", "labelFontSize": 12.5, "labelFontWeight": "bold", "labelColor": "black", "labelPadding": 9,
  "tickSize": 4, "tickColor": "#A6A6A6", "domainColor": "#A6A6A6"}},
"color": {"field": "c", "type": "nominal",
 "scale": {"domain": ["Italy", "Spain"], "range": ["#00B0F0", "#BFBFBF"]},
 "legend": {"orient": "none", "legendX": 509, "legendY": 21, "title": null, "symbolType": "stroke", "symbolSize": 361, "symbolStrokeWidth": 2.5,
  "labelFont": "Lato", "labelFontSize": 15, "labelFontWeight": "bold", "labelColor": "black", "rowPadding": 38, "labelOffset": 2, "padding": 0}}
},
"config": {"view": {"stroke": null}}
}
